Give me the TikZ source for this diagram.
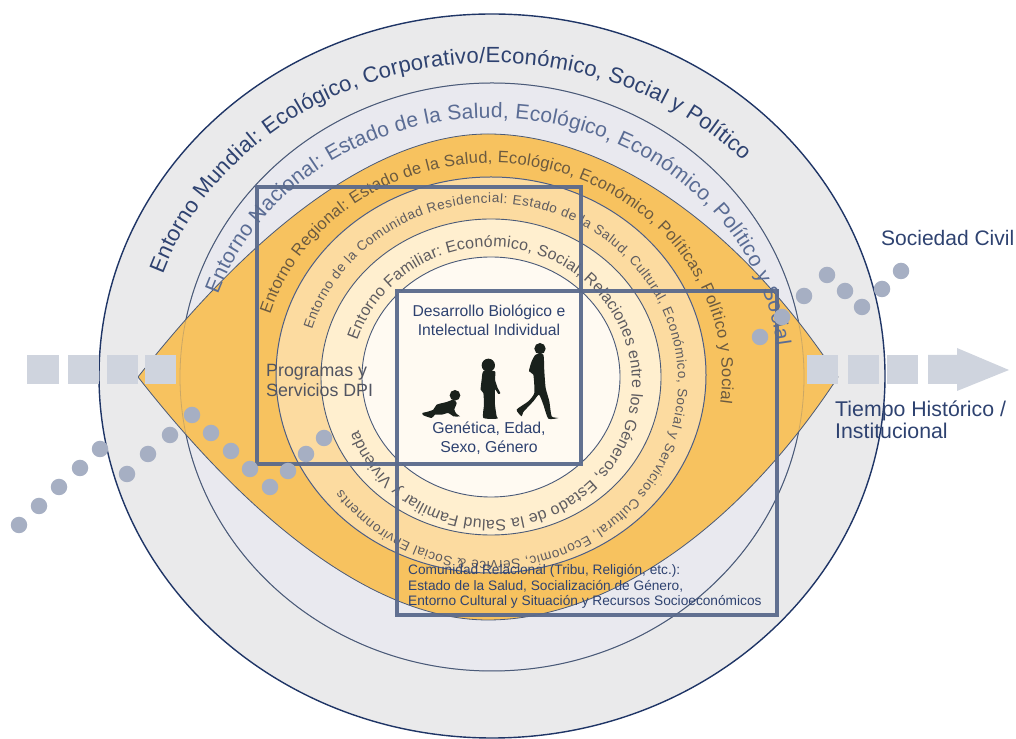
\documentclass[tikz,border=0pt]{standalone}
\usepackage{fontspec}
\setmainfont{Liberation Sans}
\usetikzlibrary{decorations.text}
\definecolor{outerfill}{HTML}{EAEAEB}
\definecolor{natfill}{HTML}{E9E9EF}
\definecolor{lensfill}{HTML}{F7C25F}
\definecolor{ringa}{HTML}{FCDBA0}
\definecolor{ringb}{HTML}{FFEFCF}
\definecolor{ringc}{HTML}{FFFAF2}
\definecolor{navy}{HTML}{1F3566}
\definecolor{slate}{HTML}{4A5A78}
\definecolor{boxc}{HTML}{5A6A8C}
\definecolor{arrowc}{HTML}{CFD4DE}
\definecolor{dotc}{HTML}{A6AFC3}
\definecolor{txtnavy}{HTML}{2E4270}
\definecolor{txtnat}{HTML}{5A6C94}
\definecolor{txtreg}{HTML}{6B5A40}
\definecolor{txtring}{HTML}{5E5C60}
\definecolor{figc}{HTML}{1A211C}
\tikzset{
  ring/.style={draw=slate,line width=0.9pt},
  frame/.style={draw=boxc,line width=3.8pt,opacity=0.95,line join=miter},
  grain/.style={circle,fill=dotc,draw=none,minimum size=16.5pt,inner sep=0pt},
  band/.style={fill=arrowc,draw=none},
  lab/.style={inner sep=0pt,align=left,anchor=base west},
  labc/.style={inner sep=0pt,align=center,anchor=base},
}
\newcommand{\curvetext}[8]{%
  \path[decorate,decoration={text along path,text align={fit to path},text={|#7|#8}}]
    ({#1+#3*cos(#5)},{738-#2+#4*sin(#5)}) arc[start angle=#5,end angle=#6,x radius=#3pt,y radius=#4pt];
}
\newcommand{\lenspath}{(138,377) .. controls (265,215) and (386,134) .. (488,134)
   .. controls (590,134) and (725,205) .. (838,377)
   .. controls (725,549) and (590,620) .. (488,620)
   .. controls (386,620) and (265,539) .. (138,377) -- cycle}
\begin{document}
\begin{tikzpicture}[x=1pt,y=1pt]
\useasboundingbox (0,0) rectangle (1016,738);
\begin{scope}[y=-1pt,yshift=738pt]
  \clip (0,0) rectangle (1016,738);
  \fill[outerfill] (492,376) ellipse [x radius=393,y radius=362];
  \draw[navy,line width=1.4pt] (492,376) ellipse [x radius=393,y radius=362];
  \fill[natfill] (492,377) ellipse [x radius=312,y radius=294];
  \draw[slate,line width=1pt] (492,377) ellipse [x radius=312,y radius=294];
  \fill[lensfill,draw=slate,line width=0.8pt,line join=round] \lenspath;
  \draw[slate,opacity=0.25,line width=0.8pt] (492,377) ellipse [x radius=312,y radius=294];
  \fill[ringa] (491,375) ellipse [x radius=215,y radius=198];
  \draw[navy!80,line width=1pt] (491,375) ellipse [x radius=215,y radius=198];
  \fill[ringb] (491,377) ellipse [x radius=170,y radius=158];
  \draw[ring] (491,377) ellipse [x radius=170,y radius=158];
  \fill[ringc] (491,377) ellipse [x radius=129,y radius=120];
  \draw[ring] (491,377) ellipse [x radius=129,y radius=120];
  \fill[ringc] (397,291) rectangle (581,464);
\end{scope}
% curved labels
\curvetext{491}{376}{347}{313}{161}{43.5}{\fontsize{22}{22}\selectfont\color{txtnavy}}{Entorno Mundial: Ecológico, Corporativo/Económico, Social y Político}
\curvetext{491}{377}{288}{259}{161.4}{7}{\fontsize{21}{21}\selectfont\color{txtnat}}{Entorno Nacional: Estado de la Salud, Ecológico, Económico, Político y Social}
\curvetext{491}{377}{231}{214}{163}{-7}{\fontsize{16.5}{16.5}\selectfont\color{txtreg}}{Entorno Regional: Estado de la Salud, Ecológico, Económico, Políticas, Político y Social}
\curvetext{491}{382}{187}{179}{163}{-143}{\fontsize{13.5}{13.5}\selectfont\color{txtring}}{Entorno de la Comunidad Residencial: Estado de la Salud, Cultural, Económico, Social y Servicios Cultural, Economic, Service {\&} Social Environments}
\curvetext{491}{383.5}{141}{136.5}{161.6}{-160}{\fontsize{16}{16}\selectfont\color{txtring}}{Entorno Familiar: Económico, Social, Relaciones entre los Géneros, Estado de la Salud Familiar y Vivienda}
\begin{scope}[y=-1pt,yshift=738pt]
  % frames
  \draw[frame] (257,187) rectangle (581,464);
  \draw[frame] (397,291) rectangle (777,615);
  % time arrow
  \foreach \xa/\xb in {27/59,68/99,107/138,145/176,807/838,848/879,887/918}
    \fill[band] (\xa,355) rectangle (\xb,384);
  \fill[band] (928,355) -- (957,355) -- (957,348) -- (1009,370) -- (957,391) -- (957,384) -- (928,384) -- cycle;
  % dots
  \foreach \n/\dx/\dy in {a/19/525,b/39/506,c/59/487,d/80/468,e/100/449,f/127/474,g/148/454,h/170/435,i/192/415,j/211/433,k/231/451,l/250/469,m/270/487,n/288/471,o/306/454,p/324/438,q/760/337,r/782/317,s/804/296,t/827/275,u/845/291,v/862/307,w/882/289,x/901/271}
    \node[grain] (dot\n) at (\dx,\dy) {};
  % silhouettes
  \begin{scope}[shift={(415,338)},x=0.3333pt,y=-0.3333pt]
    \fill[figc] (120,172) circle (16);
    \fill[figc] plot[smooth cycle,tension=0.35] coordinates {(22,225)(35,222)(55,215)(65,200)(95,192)(115,185)(125,195)(118,215)(125,228)(135,235)(115,235)(100,225)(80,230)(60,230)(50,240)(25,232)};
    \fill[figc] (220,82) circle (20);
    \fill[figc] plot[smooth cycle,tension=0.35] coordinates {(205,100)(240,100)(240,125)(248,150)(256,165)(250,168)(240,155)(240,200)(245,235)(248,242)(205,240)(207,200)(205,165)(197,155)(200,125)};
    \fill[figc] (375,32) circle (17);
    \fill[figc] plot[smooth cycle,tension=0.35] coordinates {(362,50)(385,50)(388,100)(392,150)(403,190)(410,235)(430,240)(400,242)(385,200)(372,170)(355,190)(325,222)(320,235)(305,215)(340,190)(358,165)(355,110)(342,100)(350,70)};
  \end{scope}
  % labels
  \node[lab,text=txtnavy,font=\fontsize{21}{21}\selectfont] (civil) at (881,246) {Sociedad Civil};
  \node[lab,text=txtnavy,font=\fontsize{21.3}{21.3}\selectfont] (tiempoa) at (835,417) {Tiempo Histórico /};
  \node[lab,text=txtnavy,font=\fontsize{21.3}{21.3}\selectfont] (tiempob) at (835,439) {Institucional};
  \node[lab,text=txtring!80!navy,font=\fontsize{17.8}{17.8}\selectfont] (proga) at (266,377) {Programas y};
  \node[lab,text=txtring!80!navy,font=\fontsize{17.8}{17.8}\selectfont] (progb) at (266,397) {Servicios DPI};
  \node[labc,text=txtnavy,font=\fontsize{15.7}{15.7}\selectfont] (desa) at (489,317) {Desarrollo Biológico e};
  \node[labc,text=txtnavy,font=\fontsize{15.7}{15.7}\selectfont] (desb) at (489,336) {Intelectual Individual};
  \node[labc,text=txtnavy,font=\fontsize{15.8}{15.8}\selectfont] (gena) at (489,434) {Genética, Edad,};
  \node[labc,text=txtnavy,font=\fontsize{15.8}{15.8}\selectfont] (genb) at (489,453) {Sexo, Género};
  \node[lab,text=txtnavy,font=\fontsize{13.7}{13.7}\selectfont] (coma) at (408,575) {Comunidad Relacional (Tribu, Religión, etc.):};
  \node[lab,text=txtnavy,font=\fontsize{13.7}{13.7}\selectfont] (comb) at (408,591) {Estado de la Salud, Socialización de Género,};
  \node[lab,text=txtnavy,font=\fontsize{13.7}{13.7}\selectfont] (comc) at (408,606) {Entorno Cultural y Situación y Recursos Socioeconómicos};
\end{scope}
\end{tikzpicture}
\end{document}
